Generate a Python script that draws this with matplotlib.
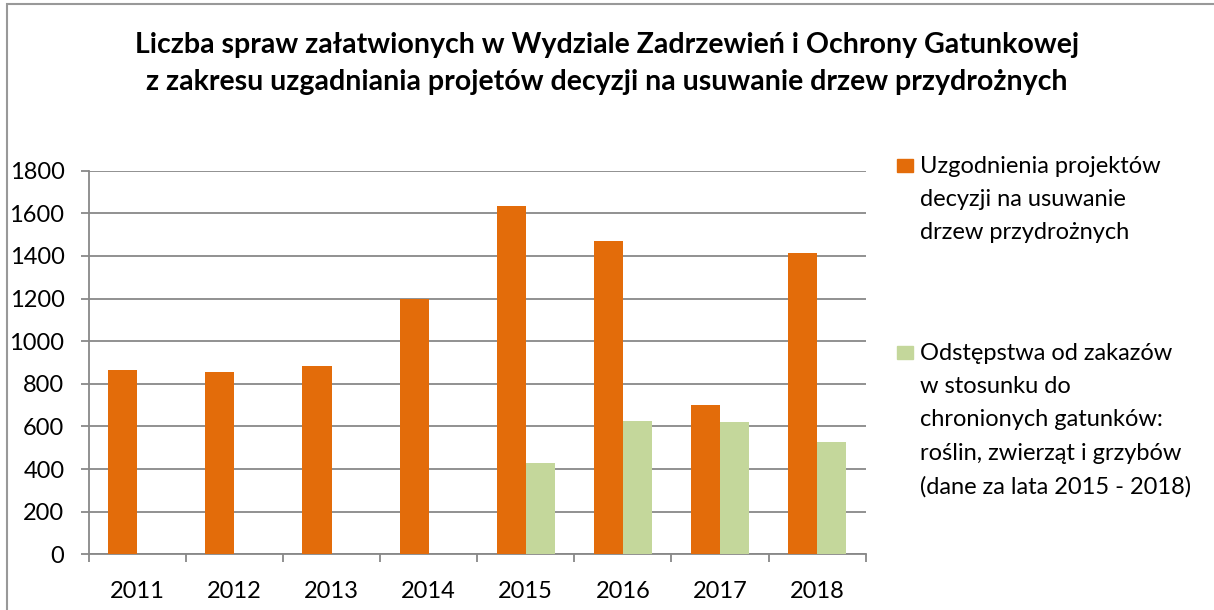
import numpy as np
import matplotlib
matplotlib.use("Agg")
import matplotlib.pyplot as plt
from matplotlib.patches import Rectangle

plt.rcParams['font.family'] = ['Lato', 'DejaVu Sans']

years = ["2011", "2012", "2013", "2014", "2015", "2016", "2017", "2018"]
uzgodnienia = [865, 855, 882, 1197, 1633, 1470, 700, 1415]
odstepstwa = [0, 0, 0, 0, 428, 627, 619, 528]

title = ("Liczba spraw załatwionych w Wydziale Zadrzewień i Ochrony Gatunkowej\n"
         "z zakresu uzgadniania projetów decyzji na usuwanie drzew przydrożnych")
label_1 = "Uzgodnienia projektów\ndecyzji na usuwanie\ndrzew przydrożnych"
label_2 = ("Odstępstwa od zakazów\nw stosunku do\nchronionych gatunków:\n"
           "roślin, zwierząt i grzybów\n(dane za lata 2015 - 2018)")

orange = "#E36C0A"
green = "#C4D79B"
grey = "#888888"

W, H = 1214, 610
fig = plt.figure(figsize=(W / 100, H / 100), dpi=100)
ax = fig.add_axes([88.7 / W, 1 - 554.3 / H, (865.7 - 88.7) / W, (554.3 - 170.7) / H])

x = np.arange(len(years))
w = 0.3
ax.bar(x - w / 2, uzgodnienia, w, color=orange, zorder=3)
ax.bar(x + w / 2, odstepstwa, w, color=green, zorder=3)

ax.set_xlim(-0.5, len(years) - 0.5)
ax.set_ylim(0, 1800)
ax.set_yticks(range(0, 1801, 200))
ax.set_xticks(x)
ax.set_xticklabels(years)
ax.set_xticks(np.arange(-0.5, len(years)), minor=True)
ax.tick_params(axis="x", which="major", length=0, pad=19, labelsize=17)
ax.tick_params(axis="x", which="minor", length=5.5, color=grey, width=1.3)
ax.tick_params(axis="y", length=5.5, color=grey, width=1.3, labelsize=17, pad=12)
ax.grid(axis="y", color=grey, linewidth=1.3, zorder=0)
for s in ["top", "right"]:
    ax.spines[s].set_visible(False)
for s in ["left", "bottom"]:
    ax.spines[s].set_color(grey)
    ax.spines[s].set_linewidth(1.3)

fig.text(0.5, 1 - 63.5 / H, title, ha="center", va="center", fontsize=20.5,
         fontweight="bold", linespacing=1.5)

# legend drawn by hand
for lab, col, y0 in [(label_1, orange, 159), (label_2, green, 346)]:
    fig.add_artist(Rectangle((897 / W, 1 - (y0 + 13) / H), 16 / W, 13 / H,
                             transform=fig.transFigure, color=col))
    fig.text(920 / W, 1 - (y0 - 3) / H, lab, ha="left", va="top",
             fontsize=17, linespacing=1.72)

fig.add_artist(Rectangle((7 / W, -0.1), 1.2, 1.1 - 4 / H, transform=fig.transFigure,
                         fill=False, edgecolor="#999999", linewidth=1.5))

fig.savefig("out.png", dpi=100)
